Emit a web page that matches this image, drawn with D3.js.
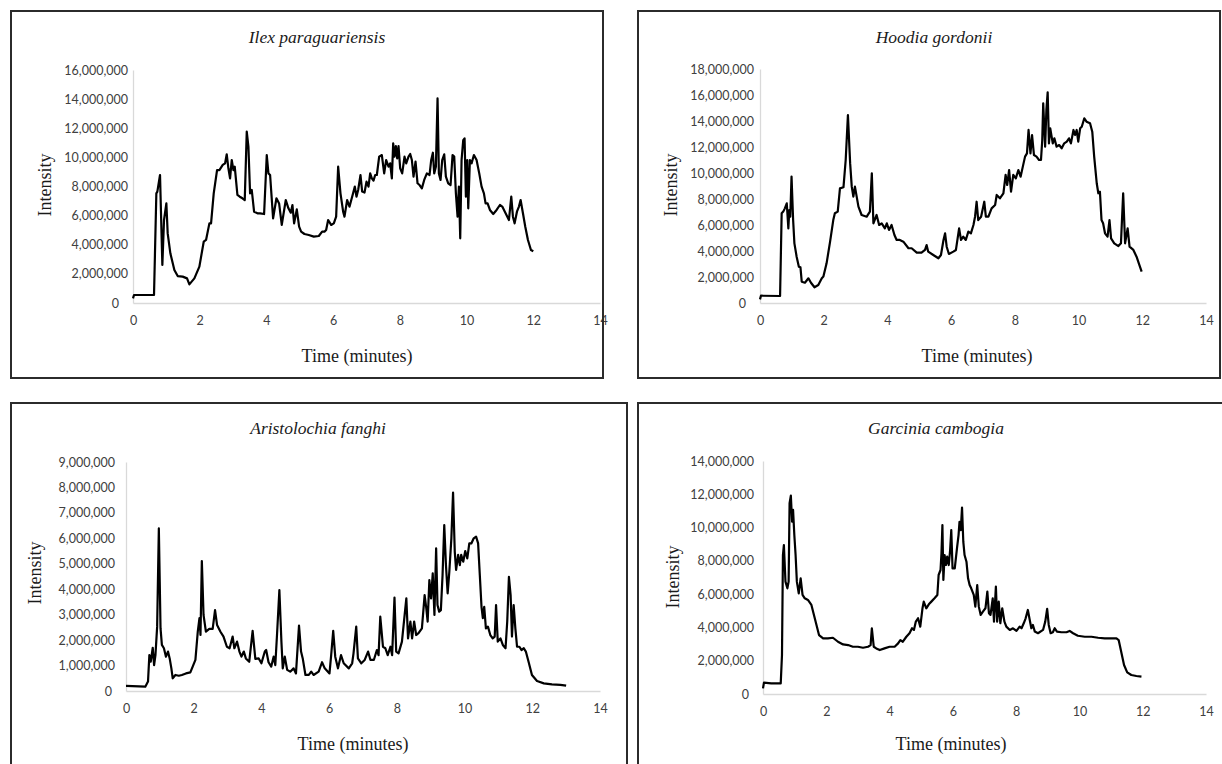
<!DOCTYPE html>
<html>
<head>
<meta charset="utf-8">
<script src="https://cdn.jsdelivr.net/npm/d3@7"></script>
<style>
  html, body { margin: 0; padding: 0; background: #fff; }
  svg { display: block; }
</style>
</head>
<body>
<svg id="chart" width="1222" height="764"></svg>
<script>
// ---------------- DATA (time in minutes, intensity in millions) ----------------
const xTicks = [0, 2, 4, 6, 8, 10, 12, 14];

const ilexTitle = "Ilex paraguariensis";
const ilexYTicks = [0, 2, 4, 6, 8, 10, 12, 14, 16];
const ilexTime = [0,0.03,0.63,0.70,0.73,0.81,0.88,0.93,1.00,1.04,1.12,1.24,1.34,1.49,1.62,1.69,1.84,1.99,2.12,2.19,2.29,2.34,2.42,2.52,2.59,2.69,2.76,2.81,2.86,2.91,2.96,3.01,3.05,3.13,3.20,3.28,3.35,3.41,3.46,3.51,3.56,3.63,3.73,3.81,3.93,4.01,4.06,4.11,4.20,4.30,4.38,4.46,4.58,4.66,4.73,4.78,4.83,4.91,4.98,5.04,5.14,5.27,5.42,5.57,5.67,5.74,5.79,5.85,5.94,6.02,6.09,6.15,6.22,6.30,6.34,6.42,6.49,6.57,6.65,6.70,6.75,6.82,6.87,6.94,7.00,7.06,7.11,7.16,7.21,7.26,7.31,7.38,7.46,7.53,7.59,7.66,7.71,7.76,7.80,7.84,7.88,7.92,7.96,8.01,8.07,8.14,8.19,8.26,8.31,8.36,8.41,8.47,8.53,8.59,8.66,8.73,8.81,8.89,8.94,8.99,9.03,9.08,9.13,9.17,9.22,9.27,9.33,9.38,9.45,9.52,9.58,9.63,9.68,9.73,9.77,9.81,9.85,9.90,9.94,9.98,10.02,10.05,10.10,10.15,10.22,10.30,10.38,10.45,10.52,10.57,10.63,10.70,10.80,10.90,11.00,11.07,11.17,11.27,11.34,11.39,11.44,11.51,11.57,11.62,11.69,11.76,11.84,11.93,12.00];
const ilexIntensity = [0.32,0.55,0.55,7.53,7.65,8.79,2.61,5.70,6.84,4.78,3.41,2.27,1.85,1.81,1.69,1.28,1.69,2.50,4.21,4.33,5.47,5.47,7.53,9.13,9.13,9.48,9.59,10.21,9.25,8.56,9.82,9.13,9.36,7.42,7.30,7.19,7.07,11.77,10.74,7.53,7.76,6.27,6.16,6.16,6.11,10.16,8.90,8.79,5.81,7.19,6.84,5.36,7.07,6.50,6.20,6.73,5.47,6.43,5.24,4.90,4.74,4.67,4.56,4.60,4.90,4.90,5.01,5.70,5.36,5.47,5.93,9.36,7.53,6.27,5.93,7.07,6.62,7.30,7.99,7.30,7.76,8.79,7.65,7.58,8.33,7.99,8.90,8.56,8.40,8.79,8.79,10.05,10.16,8.90,9.82,9.36,9.59,8.56,10.96,10.05,10.78,9.93,10.78,9.25,8.90,10.05,9.59,10.05,10.23,9.82,8.68,9.71,8.22,8.10,7.87,8.45,8.90,8.79,9.82,10.32,8.90,9.36,14.05,8.90,8.45,9.82,10.21,8.68,8.22,8.10,10.16,10.05,7.53,5.93,7.99,4.44,9.82,11.19,11.31,7.30,9.82,6.50,9.82,9.59,10.16,9.82,8.90,7.99,7.53,6.84,6.84,6.39,6.11,6.39,6.73,6.62,6.16,5.70,7.30,5.93,5.47,6.27,6.62,7.07,6.16,5.24,4.33,3.64,3.55];

const hoodiaTitle = "Hoodia gordonii";
const hoodiaYTicks = [0, 2, 4, 6, 8, 10, 12, 14, 16, 18];
const hoodiaTime = [0,0.03,0.63,0.68,0.73,0.78,0.84,0.89,0.92,0.95,0.99,1.04,1.08,1.15,1.22,1.27,1.31,1.41,1.52,1.60,1.71,1.83,1.94,1.99,2.09,2.20,2.30,2.35,2.44,2.51,2.62,2.69,2.76,2.83,2.88,2.93,2.98,3.09,3.19,3.35,3.45,3.51,3.56,3.66,3.74,3.82,3.92,3.98,4.05,4.13,4.22,4.29,4.39,4.50,4.66,4.76,4.92,5.07,5.18,5.23,5.28,5.44,5.60,5.68,5.76,5.81,5.86,5.93,6.07,6.15,6.25,6.31,6.38,6.46,6.54,6.62,6.70,6.75,6.80,6.85,6.94,7.04,7.09,7.17,7.27,7.38,7.43,7.53,7.64,7.71,7.76,7.82,7.88,7.95,8.03,8.11,8.18,8.25,8.32,8.38,8.43,8.49,8.54,8.60,8.68,8.76,8.82,8.86,8.89,8.95,8.99,9.03,9.07,9.11,9.19,9.24,9.31,9.39,9.47,9.55,9.63,9.70,9.76,9.84,9.89,9.94,9.99,10.05,10.10,10.18,10.25,10.36,10.43,10.49,10.57,10.62,10.67,10.72,10.77,10.83,10.91,10.97,11.02,11.12,11.25,11.33,11.40,11.46,11.54,11.60,11.72,11.82,11.91,11.98];
const hoodiaIntensity = [0.28,0.56,0.54,6.90,7.03,7.28,7.67,5.74,7.15,6.64,9.72,6.38,4.59,3.56,2.79,2.74,1.64,1.56,1.90,1.56,1.21,1.38,1.90,2.03,3.05,4.72,6.38,6.90,7.03,8.82,8.90,11.00,14.46,10.74,8.95,8.18,8.95,7.41,6.77,6.64,7.03,9.97,6.13,6.77,6.00,6.13,5.74,6.13,5.62,6.00,5.23,4.85,4.85,4.72,4.21,4.21,3.87,3.87,4.08,4.46,3.95,3.69,3.44,3.69,4.85,5.36,4.33,3.77,3.95,4.08,5.74,4.85,5.10,4.85,5.49,5.36,6.00,6.64,7.79,6.38,6.64,7.79,6.64,6.64,7.28,7.54,8.31,8.05,8.44,9.85,9.08,10.23,8.56,9.85,9.59,10.23,9.72,10.49,11.26,11.51,13.31,11.51,12.92,11.38,11.26,11.00,11.00,12.54,15.36,12.03,14.85,16.21,12.28,13.44,12.28,12.67,12.03,12.15,11.90,12.28,12.41,12.67,12.28,13.31,12.92,13.31,12.41,13.44,13.56,14.21,13.95,13.82,13.18,11.26,9.21,8.44,8.56,6.38,6.13,5.36,5.10,6.38,4.97,4.59,4.38,4.59,8.44,4.59,5.74,4.33,4.08,3.56,2.92,2.41];

const aristoTitle = "Aristolochia fanghi";
const aristoYTicks = [0, 1, 2, 3, 4, 5, 6, 7, 8, 9];
const aristoTime = [0,0.57,0.65,0.69,0.73,0.79,0.83,0.87,0.92,0.97,1.02,1.06,1.12,1.18,1.24,1.29,1.34,1.38,1.46,1.56,1.65,1.77,1.90,1.97,2.05,2.12,2.17,2.20,2.24,2.29,2.36,2.46,2.56,2.63,2.69,2.79,2.88,2.98,3.06,3.15,3.20,3.28,3.35,3.41,3.48,3.54,3.64,3.74,3.82,3.92,4.00,4.10,4.14,4.21,4.29,4.36,4.41,4.46,4.53,4.59,4.63,4.69,4.76,4.85,4.95,5.02,5.11,5.17,5.22,5.30,5.40,5.47,5.54,5.69,5.79,5.87,6.01,6.06,6.12,6.18,6.26,6.35,6.43,6.58,6.68,6.72,6.80,6.85,6.95,7.05,7.15,7.22,7.32,7.41,7.46,7.51,7.59,7.66,7.73,7.81,7.86,7.93,7.98,8.05,8.15,8.23,8.28,8.33,8.40,8.45,8.51,8.57,8.64,8.74,8.82,8.87,8.91,8.96,9.01,9.06,9.11,9.16,9.20,9.25,9.30,9.35,9.40,9.45,9.50,9.55,9.61,9.66,9.71,9.75,9.81,9.86,9.90,9.96,10.02,10.08,10.14,10.20,10.27,10.34,10.40,10.45,10.50,10.54,10.58,10.63,10.69,10.76,10.83,10.89,10.93,10.98,11.06,11.13,11.21,11.26,11.31,11.36,11.40,11.45,11.50,11.55,11.62,11.68,11.75,11.81,11.89,11.99,12.14,12.34,12.58,12.83,13.00];
const aristoIntensity = [0.20,0.17,0.37,1.41,1.15,1.70,1.02,1.41,2.53,6.39,2.46,1.81,1.68,1.35,1.55,1.28,0.89,0.50,0.63,0.60,0.63,0.69,0.73,0.96,1.22,2.33,2.86,2.20,5.11,2.99,2.33,2.44,2.44,3.18,2.59,2.33,2.14,1.74,1.68,2.14,1.68,1.94,1.55,1.35,1.55,1.28,1.15,2.36,1.26,1.28,1.09,1.55,1.61,1.13,0.96,1.35,1.02,2.20,3.97,1.94,0.89,1.35,0.83,0.76,0.89,0.69,2.57,1.55,1.28,0.63,0.63,0.76,0.63,0.76,1.13,0.89,0.69,1.41,2.36,1.35,0.89,1.41,1.09,0.89,1.09,1.48,2.53,1.28,1.09,1.22,1.55,1.22,1.22,1.61,1.41,2.92,1.74,1.68,1.41,1.74,1.41,3.67,1.55,1.48,1.94,2.99,3.64,2.07,2.73,2.07,2.73,2.20,2.27,2.46,3.77,3.25,2.73,4.36,3.64,4.62,2.99,5.61,3.38,3.12,3.18,4.56,6.52,4.95,3.84,4.69,6.00,7.80,5.48,4.76,5.35,4.95,5.35,5.08,5.50,5.21,5.80,5.80,6.00,6.07,5.80,4.56,3.31,2.86,3.31,2.46,2.53,2.20,2.07,2.14,3.38,1.94,2.07,1.81,1.68,2.73,4.49,3.77,2.14,3.38,2.46,1.74,1.74,1.61,1.68,1.55,1.15,0.63,0.39,0.30,0.26,0.24,0.21];

const garciniaTitle = "Garcinia cambogia";
const garciniaYTicks = [0, 2, 4, 6, 8, 10, 12, 14];
const garciniaTime = [0,0.03,0.26,0.56,0.60,0.63,0.66,0.71,0.77,0.81,0.84,0.88,0.92,0.95,0.99,1.03,1.07,1.13,1.19,1.25,1.32,1.42,1.53,1.61,1.69,1.77,1.90,2.05,2.21,2.37,2.53,2.69,2.84,3.00,3.16,3.32,3.40,3.44,3.50,3.58,3.69,3.84,4.00,4.16,4.27,4.34,4.42,4.53,4.63,4.71,4.77,4.83,4.90,4.97,5.04,5.08,5.16,5.24,5.32,5.42,5.51,5.55,5.61,5.64,5.67,5.70,5.74,5.78,5.82,5.87,5.91,5.95,5.99,6.06,6.13,6.18,6.21,6.25,6.29,6.33,6.37,6.43,6.48,6.53,6.58,6.66,6.71,6.77,6.82,6.88,6.95,7.03,7.09,7.14,7.19,7.26,7.30,7.36,7.40,7.45,7.50,7.56,7.63,7.69,7.80,7.90,8.01,8.11,8.17,8.24,8.30,8.37,8.43,8.48,8.53,8.59,8.69,8.85,8.92,8.98,9.03,9.09,9.16,9.22,9.29,9.43,9.59,9.69,9.80,9.95,10.17,10.38,10.59,10.80,11.01,11.17,11.24,11.32,11.41,11.51,11.64,11.80,11.96];
const garciniaIntensity = [0.34,0.68,0.64,0.64,2.34,8.35,8.95,6.75,6.35,6.75,11.46,11.92,10.35,11.06,9.55,8.35,6.75,6.05,6.95,5.95,5.75,5.65,5.35,4.75,4.15,3.54,3.34,3.34,3.38,3.14,2.98,2.94,2.84,2.84,2.78,2.84,2.94,3.95,2.84,2.74,2.64,2.74,2.84,2.84,3.04,3.24,3.14,3.44,3.65,3.95,3.85,4.35,4.55,4.05,5.15,5.55,5.15,5.39,5.55,5.75,5.95,7.15,7.45,8.45,10.15,6.85,8.35,7.75,8.25,7.75,8.55,9.85,7.55,7.55,8.75,9.55,10.35,9.85,11.20,9.15,8.35,7.95,6.95,6.55,6.35,5.95,5.25,6.55,5.25,4.75,4.95,5.15,6.15,4.85,4.75,5.75,4.35,6.45,4.35,5.55,4.25,5.15,4.35,4.05,3.85,3.95,3.79,4.05,3.95,4.25,4.55,5.05,4.45,3.95,4.15,3.75,3.65,3.85,4.35,5.11,4.15,3.65,3.71,3.95,3.75,3.71,3.71,3.79,3.65,3.50,3.44,3.44,3.38,3.34,3.34,3.34,3.24,2.54,1.74,1.30,1.14,1.08,1.04];

// ---------------- LAYOUT ----------------
const panels = [
  { title: ilexTitle, time: ilexTime, values: ilexIntensity, yTicks: ilexYTicks,
    box: [11, 11, 592, 367], plot: { x0: 133, x1: 600, yTop: 70, yBot: 303 },
    labelGap: 5, zeroShift: 9, titlePos: [317, 43], yTitle: [45, 185], xTitle: [357, 362] },
  { title: hoodiaTitle, time: hoodiaTime, values: hoodiaIntensity, yTicks: hoodiaYTicks,
    box: [638, 11, 582, 367], plot: { x0: 760, x1: 1206, yTop: 69, yBot: 303 },
    labelGap: 6, zeroShift: 8, titlePos: [934, 43], yTitle: [671, 185], xTitle: [977, 362] },
  { title: aristoTitle, time: aristoTime, values: aristoIntensity, yTicks: aristoYTicks,
    box: [11, 403, 616, 400], plot: { x0: 126, x1: 600, yTop: 462, yBot: 691 },
    labelGap: 11, zeroShift: 3, titlePos: [318, 434], yTitle: [35, 573], xTitle: [353, 750] },
  { title: garciniaTitle, time: garciniaTime, values: garciniaIntensity, yTicks: garciniaYTicks,
    box: [638, 403, 600, 400], plot: { x0: 763, x1: 1206, yTop: 461, yBot: 694 },
    labelGap: 9, zeroShift: 5, titlePos: [936, 434], yTitle: [673, 577], xTitle: [951, 750] }
];

const svg = d3.select("#chart");
const serif = "'Liberation Serif', 'Times New Roman', serif";
const sans = "Lato, 'Open Sans', sans-serif";
const fmt = d3.format(",");

panels.forEach((p, i) => {
  const [bx, by, bw, bh] = p.box;
  const clipId = "clip" + i;
  svg.append("clipPath").attr("id", clipId)
    .append("rect").attr("x", bx).attr("y", by).attr("width", bw + 6).attr("height", bh);

  const g = svg.append("g").attr("clip-path", `url(#${clipId})`);

  const x = d3.scaleLinear().domain([0, 14]).range([p.plot.x0, p.plot.x1]);
  const yMax = p.yTicks[p.yTicks.length - 1];
  const y = d3.scaleLinear().domain([0, yMax * 1e6]).range([p.plot.yBot, p.plot.yTop]);

  // X axis
  const xAxis = g.append("g").attr("transform", `translate(0,${p.plot.yBot})`)
    .call(d3.axisBottom(x).tickValues(xTicks).tickSize(0).tickPadding(13).tickFormat(d3.format("d")));
  xAxis.select(".domain").attr("stroke", "#d9d9d9").attr("stroke-width", 1.3);
  xAxis.selectAll("text").attr("font-family", sans).attr("font-size", 12.5).attr("fill", "#404040");

  // Y axis
  const yAxis = g.append("g").attr("transform", `translate(${p.plot.x0},0)`)
    .call(d3.axisLeft(y).tickValues(p.yTicks.map(v => v * 1e6)).tickSize(0)
      .tickPadding(p.labelGap).tickFormat(fmt));
  yAxis.select(".domain").attr("stroke", "#d9d9d9").attr("stroke-width", 1.3);
  yAxis.selectAll("text").attr("font-family", sans).attr("font-size", 12.5).attr("fill", "#404040")
    .attr("dx", d => d === 0 ? -p.zeroShift : 0);

  // Line
  const pts = d3.zip(p.time, p.values).map(([t, v]) => ({ t, v: v * 1e6 }));
  g.append("path").datum(pts)
    .attr("fill", "none").attr("stroke", "#000").attr("stroke-width", 2.2)
    .attr("stroke-linejoin", "round")
    .attr("d", d3.line().x(d => x(d.t)).y(d => y(d.v)));

  // Titles
  g.append("text").attr("x", p.titlePos[0]).attr("y", p.titlePos[1])
    .attr("text-anchor", "middle").attr("font-family", serif).attr("font-style", "italic")
    .attr("font-size", 17.5).attr("fill", "#1a1a1a").text(p.title);
  g.append("text").attr("x", p.xTitle[0]).attr("y", p.xTitle[1])
    .attr("text-anchor", "middle").attr("font-family", serif)
    .attr("font-size", 18).attr("fill", "#1a1a1a").text("Time (minutes)");
  g.append("text")
    .attr("transform", `translate(${p.yTitle[0]},${p.yTitle[1]}) rotate(-90)`)
    .attr("text-anchor", "middle").attr("dy", "0.35em").attr("font-family", serif)
    .attr("font-size", 18).attr("fill", "#1a1a1a").text("Intensity");

  // Frame
  svg.append("rect").attr("x", bx).attr("y", by).attr("width", bw).attr("height", bh)
    .attr("fill", "none").attr("stroke", "#2b2b2b").attr("stroke-width", 2);
});
</script>
</body>
</html>
